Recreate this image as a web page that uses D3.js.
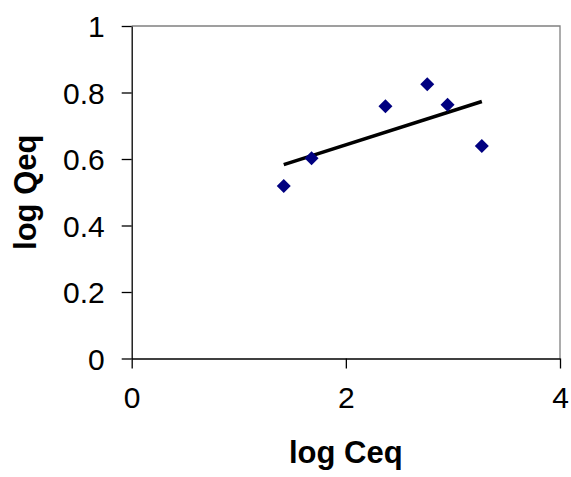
<!DOCTYPE html>
<html>
<head>
<meta charset="utf-8">
<script src="https://cdn.jsdelivr.net/npm/d3@7"></script>
<style>
  body { margin: 0; background: #fff; }
  text { font-family: Arial, "Liberation Sans", sans-serif; }
</style>
</head>
<body>
<div id="chart"></div>
<script>
// data
const logCeq = [1.42, 1.68, 2.37, 2.76, 2.95, 3.27];
const logQeq = [0.519, 0.602, 0.759, 0.825, 0.763, 0.639];
const xTicks = [0, 2, 4];
const yTicks = [0, 0.2, 0.4, 0.6, 0.8, 1];

const width = 571, height = 477;
const margin = {top: 26, right: 11, bottom: 118.5, left: 131.7};
const w = width - margin.left - margin.right;
const h = height - margin.top - margin.bottom;

const svg = d3.select("#chart").append("svg")
    .attr("width", width)
    .attr("height", height);

const g = svg.append("g")
    .attr("transform", "translate(" + margin.left + "," + margin.top + ")");

const x = d3.scaleLinear().domain([0, 4]).range([0, w]);
const y = d3.scaleLinear().domain([0, 1]).range([h, 0]);

// plot frame (grey top and right)
g.append("path")
    .attr("d", "M0,0H" + w + "V" + h)
    .attr("fill", "none")
    .attr("stroke", "#808080")
    .attr("stroke-width", 1.3);

// axes
const xAxis = g.append("g")
    .attr("transform", "translate(0," + h + ")")
    .call(d3.axisBottom(x).tickValues(xTicks).tickFormat(d3.format("d")).tickSize(10).tickSizeOuter(0));
const yAxis = g.append("g")
    .call(d3.axisLeft(y).tickValues(yTicks).tickFormat(d => d === 0 || d === 1 ? d : d.toFixed(1)).tickSize(10).tickSizeOuter(0));

[xAxis, yAxis].forEach(a => {
    a.select(".domain").attr("stroke", "#000").attr("stroke-width", 1.3);
    a.selectAll(".tick line").attr("stroke", "#000").attr("stroke-width", 1.3);
    a.selectAll(".tick text")
        .attr("fill", "#000")
        .style("font-size", "30px")
        .style("font-family", "Arial, 'Liberation Sans', sans-serif");
});
xAxis.selectAll(".tick text").attr("dy", null).attr("y", 49.5);
yAxis.selectAll(".tick text").attr("x", -27).attr("dy", "0.36em");

// linear trend line (least squares)
const mx = d3.mean(logCeq), my = d3.mean(logQeq);
const slope = d3.sum(logCeq, (v, i) => (v - mx) * (logQeq[i] - my)) /
              d3.sum(logCeq, v => (v - mx) * (v - mx));
const icpt = my - slope * mx;
const xr = d3.extent(logCeq);
const line = d3.line().x(d => x(d)).y(d => y(icpt + slope * d));
g.append("path")
    .datum(xr)
    .attr("d", line)
    .attr("fill", "none")
    .attr("stroke", "#000")
    .attr("stroke-width", 3.5);

// diamond markers
g.selectAll(".dot")
    .data(logCeq)
    .enter().append("path")
    .attr("class", "dot")
    .attr("d", d3.symbol(d3.symbolSquare, 98))
    .attr("transform", (d, i) => "translate(" + x(d) + "," + y(logQeq[i]) + ") rotate(45)")
    .attr("fill", "#000080");

// axis titles
svg.append("text")
    .attr("x", margin.left + w / 2)
    .attr("y", 463)
    .attr("text-anchor", "middle")
    .style("font-size", "31px")
    .style("font-weight", "bold")
    .text("log Ceq");

svg.append("text")
    .attr("transform", "translate(36," + (margin.top + h / 2) + ") rotate(-90)")
    .attr("text-anchor", "middle")
    .style("font-size", "31px")
    .style("font-weight", "bold")
    .text("log Qeq");
</script>
</body>
</html>
